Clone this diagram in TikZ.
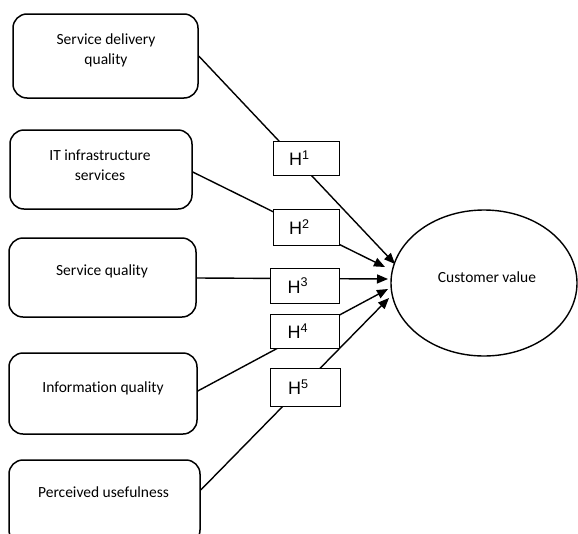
\documentclass[tikz,border=0pt]{standalone}
\usepackage{fontspec}
\setmainfont[Ligatures=NoCommon]{Carlito}
\newfontfamily\hfont{Liberation Sans}
\usetikzlibrary{arrows.meta,shapes.geometric}
\begin{document}
\begin{tikzpicture}[x=1pt,y=1pt,
  construct/.style={draw, line width=1.5pt, rounded corners=14pt, inner sep=0pt},
  label text/.style={font=\fontsize{15.5}{20}\selectfont, align=center, inner sep=0pt},
  hyp/.style={draw, fill=white, line width=0.8pt, inner xsep=16pt, inner ysep=0pt,
    text width=34pt, align=left, font=\hfont\fontsize{18}{20}\selectfont},
  path/.style={line width=1.4pt, -{Triangle[length=11pt,width=9pt]}}
]
\useasboundingbox (0,0) rectangle (578,-533);

% constructs
\node[construct, minimum width=185pt, minimum height=84pt] (b1) at (105.5,-56) {};
\node[construct, minimum width=182pt, minimum height=79pt] (b2) at (101,-169.5) {};
\node[construct, minimum width=187pt, minimum height=79pt] (b3) at (102.5,-277.5) {};
\node[construct, minimum width=188pt, minimum height=81pt] (b4) at (103,-393.5) {};
\node[construct, minimum width=191pt, minimum height=84pt] (b5) at (104.5,-502) {};

\node[label text] (t1) at (106,-50) {Service delivery\\quality};
\node[label text] (t2) at (100,-165) {IT infrastructure\\services};
\node[label text] (t3) at (102,-271) {Service quality};
\node[label text] (t4) at (103,-388) {Information quality};
\node[label text] (t5) at (103.5,-492) {Perceived usefulness};

% outcome
\node[draw, ellipse, line width=1.4pt, minimum width=186pt, minimum height=146pt, inner sep=0pt] (cv) at (484,-283) {};
\node[label text] (cvt) at (487,-277) {Customer value};

% arrow tips
\coordinate (e1) at (395,-264);
\coordinate (e2) at (385,-267);
\coordinate (e3) at (388,-279);
\coordinate (e4) at (388,-289);
\coordinate (e5) at (389,-298);

\draw[path] (b1.east) -- (e1);
\draw[path] ([yshift=-2.5pt]b2.east) -- (e2);
\draw[path] ([yshift=-0.5pt]b3.east) -- (e3);
\draw[path] ([yshift=2.5pt]b4.east) -- (e4);
\draw[path] ([yshift=12pt]b5.east) -- (e5);

% hypotheses
\node[hyp, minimum width=66pt, minimum height=34pt] (h1) at (306,-158) {H\textsuperscript{1}};
\node[hyp, minimum width=66pt, minimum height=36pt] (h2) at (306,-227) {H\textsuperscript{2}};
\node[hyp, minimum width=69pt, minimum height=35pt] (h3) at (304.5,-285.5) {H\textsuperscript{3}};
\node[hyp, minimum width=69pt, minimum height=34pt] (h4) at (304.5,-331) {H\textsuperscript{4}};
\node[hyp, minimum width=70pt, minimum height=38pt] (h5) at (305,-387) {H\textsuperscript{5}};
\end{tikzpicture}
\end{document}
